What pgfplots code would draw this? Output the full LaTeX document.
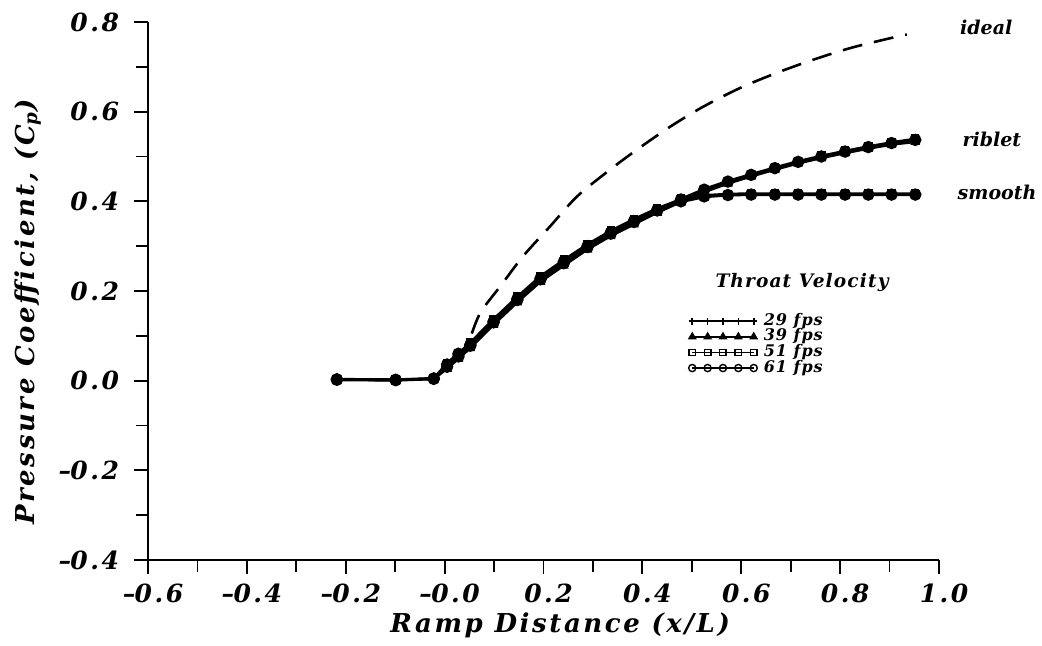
\documentclass[border=0pt]{standalone}
\usepackage{fontspec}
\setmainfont{DejaVu Serif}
\newfontfamily\labfont{DejaVu Serif}[LetterSpace=10]
\newfontfamily\tickfont{DejaVu Serif}[LetterSpace=10]
\newfontfamily\legfont{DejaVu Serif}[LetterSpace=6]
\newcommand{\mn}{–\kern-0.3pt}
\usepackage{pgfplots}
\pgfplotsset{compat=1.18}
\usepackage{pgfplotstable}

\pgfplotstableread{
x      v29   v39   v51   v61
-0.218 0.003 0.002 0.004 0.003
-0.099 0.002 0.001 0.003 0.002
-0.022 0.005 0.004 0.006 0.005
0.005  0.035 0.030 0.040 0.036
0.028  0.058 0.052 0.062 0.060
0.052  0.082 0.076 0.086 0.080
0.099  0.135 0.128 0.138 0.132
0.147  0.184 0.178 0.188 0.182
0.194  0.230 0.224 0.234 0.228
0.241  0.266 0.260 0.270 0.265
0.289  0.302 0.296 0.305 0.300
0.336  0.332 0.326 0.335 0.330
0.383  0.358 0.352 0.361 0.356
0.430  0.382 0.377 0.385 0.380
0.478  0.402 0.398 0.405 0.400
0.525  0.412 0.409 0.414 0.411
0.573  0.415 0.413 0.417 0.414
0.620  0.416 0.414 0.418 0.415
0.668  0.416 0.414 0.418 0.415
0.715  0.416 0.414 0.418 0.415
0.762  0.416 0.414 0.418 0.415
0.810  0.416 0.414 0.418 0.415
0.857  0.416 0.414 0.418 0.415
0.904  0.416 0.414 0.418 0.415
0.952  0.416 0.414 0.418 0.415
}\smoothdata

\pgfplotstableread{
x      v29   v39   v51   v61
-0.218 0.002 0.001 0.003 0.002
-0.099 0.001 0.000 0.002 0.001
-0.022 0.004 0.003 0.005 0.004
0.005  0.030 0.026 0.034 0.031
0.028  0.052 0.048 0.056 0.054
0.052  0.076 0.072 0.080 0.078
0.099  0.128 0.124 0.132 0.130
0.147  0.178 0.174 0.182 0.180
0.194  0.224 0.220 0.228 0.226
0.241  0.260 0.256 0.264 0.262
0.289  0.296 0.292 0.300 0.298
0.336  0.326 0.322 0.330 0.328
0.383  0.352 0.348 0.356 0.354
0.430  0.378 0.374 0.382 0.380
0.478  0.402 0.398 0.406 0.404
0.525  0.424 0.420 0.428 0.426
0.573  0.443 0.439 0.446 0.444
0.620  0.458 0.455 0.461 0.459
0.668  0.473 0.470 0.476 0.474
0.715  0.487 0.484 0.490 0.488
0.762  0.499 0.496 0.502 0.500
0.810  0.510 0.507 0.513 0.511
0.857  0.520 0.517 0.523 0.521
0.904  0.529 0.526 0.532 0.530
0.952  0.535 0.532 0.540 0.537
}\ribletdata

\pgfplotstableread{
x     cp
0.055 0.105
0.073 0.153
0.113 0.211
0.159 0.278
0.214 0.345
0.268 0.411
0.335 0.471
0.390 0.516
0.457 0.567
0.523 0.611
0.598 0.653
0.673 0.687
0.746 0.716
0.821 0.742
0.902 0.764
0.935 0.772
}\idealdata

\begin{document}
\begin{tikzpicture}
\begin{axis}[
  scale only axis, width=395.5pt, height=269pt,
  xmin=-0.6, xmax=1.0, ymin=-0.4, ymax=0.8,
  axis x line=bottom, axis y line=left,
  axis line style={line width=1pt, -},
  xtick={-0.6,-0.4,-0.2,0,0.2,0.4,0.6,0.8,1.0},
  xticklabels={\mn0.6,\mn0.4,\mn0.2,\mn0.0,0.2,0.4,0.6,0.8,1.0},
  minor xtick={-0.5,-0.3,-0.1,0.1,0.3,0.5,0.7,0.9},
  ytick={-0.4,-0.2,0,0.2,0.4,0.6,0.8},
  yticklabels={\mn0.4,\mn0.2,0.0,0.2,0.4,0.6,0.8},
  minor ytick={-0.3,-0.1,0.1,0.3,0.5,0.7},
  tick align=outside, major tick length=7pt, minor tick length=6pt,
  every tick/.style={line width=0.9pt, black},
  tick label style={font=\fontsize{12.5}{14}\selectfont\tickfont\bfseries\itshape},
  yticklabel style={xshift=-4pt},
  xticklabel style={yshift=-1.5pt, xshift=2.5pt},
  xlabel={Ramp Distance (x/L)},
  ylabel={Pressure Coefficient, (C\textsubscript{p})},
  every axis x label/.style={at={(axis description cs:0.521,-0.121)}, anchor=center,
    font=\fontsize{13}{15}\selectfont\labfont\bfseries\itshape},
  every axis y label/.style={at={(axis description cs:-0.1517,0.461)}, anchor=center, rotate=90,
    font=\fontsize{13}{15}\selectfont\labfont\bfseries\itshape},
  clip=false,
  legend style={at={(0.683,0.459)}, anchor=north west, draw=none, fill=none,
    font=\fontsize{8}{9}\selectfont\legfont\bfseries\itshape, row sep=0pt,
    inner sep=0pt, nodes={inner sep=0.3pt, text height=5.6pt, text depth=1.6pt},
    /tikz/every odd column/.append style={column sep=3pt}},
  legend cell align=left,
  legend image code/.code={\draw[mark repeat=1,#1] plot coordinates {(0cm,0cm)(0.27cm,0cm)(0.54cm,0cm)(0.81cm,0cm)(1.08cm,0cm)};},
  every axis plot/.append style={black, line width=1pt},
]
\addplot[mark=+, mark size=2.2pt, legend image post style={line width=0.8pt, mark size=1.8pt}] table[x=x,y=v29] {\smoothdata};
\addplot[mark=triangle*, mark size=1.8pt, legend image post style={line width=0.7pt, mark size=1.9pt}] table[x=x,y=v39] {\smoothdata};
\addplot[mark=square*, mark size=1.6pt, legend image post style={line width=0.7pt, mark=square, mark size=1.6pt, mark options={fill=white}}] table[x=x,y=v51] {\smoothdata};
\addplot[mark=*, mark size=2.6pt, legend image post style={line width=0.7pt, mark=o, mark size=1.8pt, mark options={fill=white}}] table[x=x,y=v61] {\smoothdata};
\legend{29 fps, 39 fps, 51 fps, 61 fps}
\addplot[mark=+, mark size=2.2pt, forget plot] table[x=x,y=v29] {\ribletdata};
\addplot[mark=triangle*, mark size=1.8pt, forget plot] table[x=x,y=v39] {\ribletdata};
\addplot[mark=square*, mark size=1.6pt, forget plot] table[x=x,y=v51] {\ribletdata};
\addplot[mark=*, mark size=2.6pt, forget plot] table[x=x,y=v61] {\ribletdata};
\addplot[no marks, line width=1.3pt, dash pattern=on 10pt off 6pt, smooth, forget plot] table[x=x,y=cp] {\idealdata};
\node[anchor=west, inner sep=0pt, font=\fontsize{9.5}{11}\selectfont\bfseries\itshape] at (axis cs:1.042,0.787) {ideal};
\node[anchor=west, inner sep=0pt, font=\fontsize{9.5}{11}\selectfont\bfseries\itshape] at (axis cs:1.047,0.537) {riblet};
\node[anchor=west, inner sep=0pt, font=\fontsize{9.5}{11}\selectfont\bfseries\itshape] at (axis cs:1.037,0.42) {smooth};
\node[font=\fontsize{9.3}{11}\selectfont\legfont\bfseries\itshape] at (axis cs:0.723,0.218) {Throat Velocity};
\end{axis}
\pgfresetboundingbox
\path[use as bounding box] ([shift={(-74pt,-43pt)}]current axis.south west) rectangle ([shift={(51.5pt,11pt)}]current axis.north east);
\end{tikzpicture}
\end{document}
